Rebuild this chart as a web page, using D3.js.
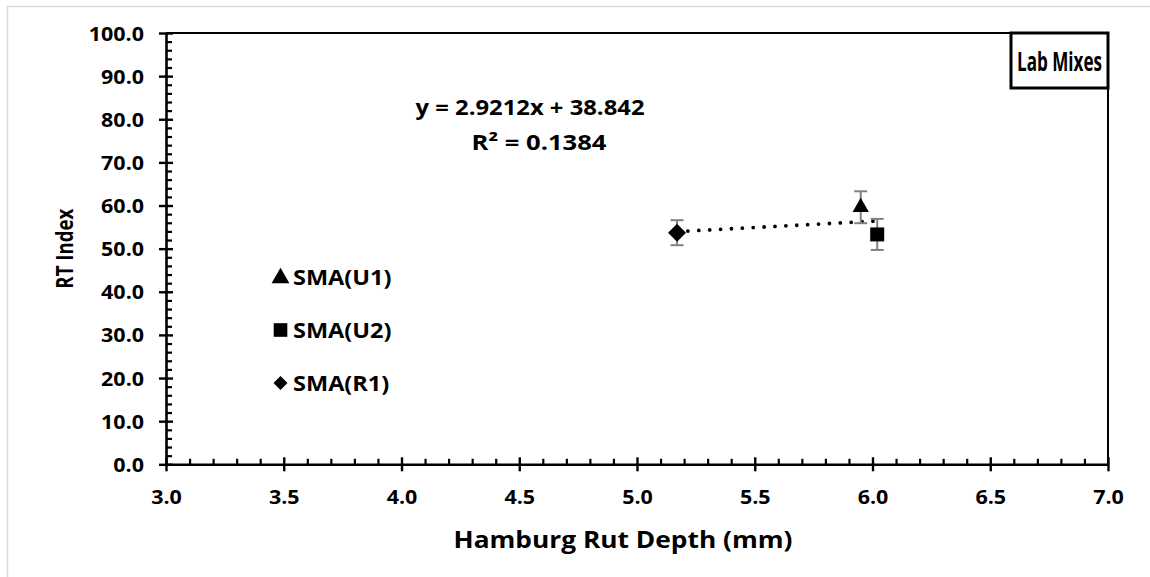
<!DOCTYPE html>
<html>
<head>
<meta charset="utf-8">
<script src="https://cdn.jsdelivr.net/npm/d3@7"></script>
<style>
  html, body { margin: 0; padding: 0; background: #fff; }
  svg { display: block; }
  text { font-family: "Open Sans", Lato, sans-serif; font-weight: bold; fill: #000; }
</style>
</head>
<body>
<svg id="chart" width="1150" height="577"></svg>
<script>
// Mix names, Hamburg rut depth (mm), RT index and its error
const mixes = ["SMA(U1)", "SMA(U2)", "SMA(R1)"];
const rutDepth = [5.95, 6.02, 5.17];
const rtIndex = [59.6, 53.3, 53.7];
const rtError = [3.7, 3.6, 2.9];
const markerTypes = ["triangle", "square", "diamond"];

// Linear trendline fitted across the three mixes
const trendSlope = 2.9212;
const trendIntercept = 38.842;
const trendR2 = 0.1384;

const xTicks = [3.0, 3.5, 4.0, 4.5, 5.0, 5.5, 6.0, 6.5, 7.0];
const yTicks = [0, 10, 20, 30, 40, 50, 60, 70, 80, 90, 100];

const svg = d3.select("#chart");

// widen or narrow a text run to a given factor of its natural length
function stretch(sel, k) {
  sel.each(function () {
    const w = this.getComputedTextLength();
    this.setAttribute("textLength", (w * k).toFixed(1));
    this.setAttribute("lengthAdjust", "spacingAndGlyphs");
  });
}
function fitTo(sel, width) {
  sel.attr("textLength", width).attr("lengthAdjust", "spacingAndGlyphs");
}

// outer chart frame
svg.append("rect")
  .attr("x", 7.5).attr("y", 6.5)
  .attr("width", 1160).attr("height", 600)
  .attr("fill", "none").attr("stroke", "#d9d9d9").attr("stroke-width", 1.5);

const plotL = 166, plotR = 1108, plotT = 33, plotB = 464.3;
const x = d3.scaleLinear().domain([3, 7]).range([plotL, plotR]);
const y = d3.scaleLinear().domain([0, 100]).range([plotB, plotT]);

// plot frame (top and right edges)
svg.append("path")
  .attr("d", `M${plotL},${plotT}H${plotR}V${plotB}`)
  .attr("fill", "none").attr("stroke", "#000").attr("stroke-width", 2);

// minor ticks
const xMinor = d3.range(30, 71).map(d => d / 10).filter(d => Math.round(d * 10) % 5 !== 0);
const yMinor = d3.range(0, 101, 2).filter(d => d % 10 !== 0);

svg.append("g")
  .attr("transform", `translate(0,${plotB})`)
  .call(d3.axisBottom(x).tickValues(xMinor).tickSize(-5.5).tickFormat(""))
  .call(g => g.select(".domain").remove())
  .call(g => g.selectAll("line").attr("stroke-width", 2.2));

svg.append("g")
  .attr("transform", `translate(${plotL},0)`)
  .call(d3.axisLeft(y).tickValues(yMinor).tickSize(-6).tickFormat(""))
  .call(g => g.select(".domain").remove())
  .call(g => g.selectAll("line").attr("stroke-width", 2.2));

// major axes with crossing ticks
const tickFont = 19.5;
const xAxis = svg.append("g")
  .attr("transform", `translate(0,${plotB})`)
  .call(d3.axisBottom(x).tickValues(xTicks).tickSize(7).tickSizeOuter(0)
    .tickFormat(d3.format(".1f")));
xAxis.select(".domain").attr("stroke-width", 2.6);
xAxis.selectAll(".tick line").attr("y1", -7).attr("stroke-width", 2.4);
xAxis.selectAll(".tick text")
  .attr("font-size", tickFont).attr("font-family", "'Open Sans', sans-serif").attr("font-weight", "bold")
  .attr("dy", "0.71em").attr("y", 25.5)
  .call(stretch, 1.1);

const yAxis = svg.append("g")
  .attr("transform", `translate(${plotL},0)`)
  .call(d3.axisLeft(y).tickValues(yTicks).tickSize(7).tickSizeOuter(0)
    .tickFormat(d3.format(".1f")));
yAxis.select(".domain").attr("stroke-width", 2.6);
yAxis.selectAll(".tick line").attr("x1", 7).attr("stroke-width", 2.4);
yAxis.selectAll(".tick text")
  .attr("font-size", tickFont).attr("font-family", "'Open Sans', sans-serif").attr("font-weight", "bold")
  .attr("x", -22).attr("dy", "0.36em")
  .call(stretch, 1.1);

// axis titles
svg.append("text")
  .attr("x", 623).attr("y", 540).attr("text-anchor", "middle").attr("dy", "0.36em")
  .attr("font-size", 23).text("Hamburg Rut Depth (mm)")
  .call(fitTo, 339);
svg.append("text")
  .attr("transform", `translate(65,${(plotT + plotB) / 2}) rotate(-90)`)
  .attr("text-anchor", "middle").attr("dy", "0.36em")
  .attr("font-size", 23).text("RT Index")
  .call(fitTo, 80);

// trendline over the measured rut depth range
const [xMin, xMax] = d3.extent(rutDepth);
svg.append("line")
  .attr("x1", x(xMin)).attr("y1", y(trendSlope * xMin + trendIntercept))
  .attr("x2", x(xMax)).attr("y2", y(trendSlope * xMax + trendIntercept))
  .attr("stroke", "#000").attr("stroke-width", 3.8)
  .attr("stroke-linecap", "round").attr("stroke-dasharray", "0 10.9");

// error bars
const capHalf = 6.5;
const eb = svg.append("g").attr("stroke", "#808080").attr("stroke-width", 2);
mixes.forEach((m, i) => {
  const cx = x(rutDepth[i]);
  const lo = y(rtIndex[i] - rtError[i]), hi = y(rtIndex[i] + rtError[i]);
  eb.append("line").attr("x1", cx).attr("x2", cx).attr("y1", lo).attr("y2", hi);
  eb.append("line").attr("x1", cx - capHalf).attr("x2", cx + capHalf).attr("y1", lo).attr("y2", lo);
  eb.append("line").attr("x1", cx - capHalf).attr("x2", cx + capHalf).attr("y1", hi).attr("y2", hi);
});

// marker shapes
function markerPath(type, scale) {
  if (type === "triangle") return d3.symbol(d3.symbolTriangle, 115 * scale)();
  if (type === "square") return d3.symbol(d3.symbolSquare, 196 * scale)();
  return d3.symbol(d3.symbolSquare, 162 * scale)();
}
function markerRot(type) { return type === "diamond" ? " rotate(45)" : ""; }

svg.append("g").selectAll("path")
  .data(mixes.map((m, i) => ({ m, x: rutDepth[i], y: rtIndex[i], t: markerTypes[i] })))
  .join("path")
  .attr("d", d => markerPath(d.t, 1))
  .attr("transform", d => `translate(${x(d.x)},${y(d.y)})${markerRot(d.t)}`)
  .attr("fill", "#000");

// legend
const legendY = [277, 330, 383];
const legend = svg.append("g");
mixes.forEach((m, i) => {
  const t = markerTypes[i];
  legend.append("path")
    .attr("d", markerPath(t, t === "diamond" ? 0.6 : (t === "square" ? 0.95 : 1.2)))
    .attr("transform", `translate(280.5,${legendY[i] + (t === "triangle" ? 1 : 0)})${markerRot(t)}`)
    .attr("fill", "#000");
  legend.append("text")
    .attr("x", 293).attr("y", legendY[i]).attr("dy", "0.36em")
    .attr("font-size", 21).text(m)
    .call(stretch, 1.12);
});

// trendline equation and R²
svg.append("text")
  .attr("x", 530).attr("y", 107).attr("text-anchor", "middle").attr("dy", "0.36em")
  .attr("font-size", 21.5)
  .text(`y = ${trendSlope}x + ${trendIntercept}`)
  .call(fitTo, 229);
svg.append("text")
  .attr("x", 539).attr("y", 142).attr("text-anchor", "middle").attr("dy", "0.36em")
  .attr("font-size", 21.5)
  .text(`R² = ${trendR2}`)
  .call(fitTo, 135);

// panel label box, its text condensed horizontally to sit inside the frame
svg.append("rect")
  .attr("x", 1011).attr("y", 33).attr("width", 97).attr("height", 55)
  .attr("fill", "#fff").attr("stroke", "#000").attr("stroke-width", 3);
const panelLabel = svg.append("g").attr("transform", "translate(1059.5,61)");
const panelText = panelLabel.append("text")
  .attr("text-anchor", "middle").attr("dy", "0.36em")
  .attr("font-size", 27).text("Lab Mixes");
const panelW = panelText.node().getComputedTextLength();
panelText.attr("transform", `scale(${(85 / panelW).toFixed(3)},1)`);
</script>
</body>
</html>
